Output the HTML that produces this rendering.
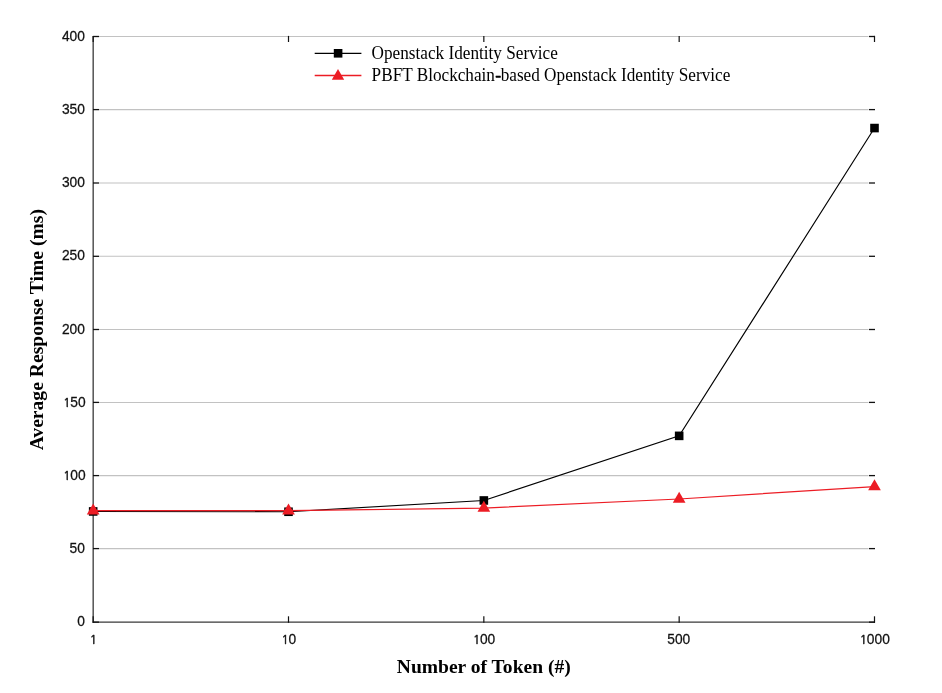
<!DOCTYPE html><html><head><meta charset="utf-8"><style>html,body{margin:0;padding:0;background:#fff;width:942px;height:693px;overflow:hidden}svg{display:block}.t{font-family:"Liberation Sans",Arial,sans-serif;font-size:13.8px;fill:#111;stroke:#111;stroke-width:0.25px}.o{font-family:NanumGothic,"Liberation Sans",sans-serif;font-size:12px;stroke-width:0.5px}.ti{font-family:"Liberation Serif","Times New Roman",serif;font-weight:bold;font-size:19.4px;fill:#000}.lg{font-family:"Liberation Serif","Times New Roman",serif;font-size:17.2px;fill:#000}</style></head><body>
<svg width="942" height="693" viewBox="0 0 942 693">
<rect width="942" height="693" fill="#fff"/>
<line x1="99" y1="548.60" x2="868.5" y2="548.60" stroke="#c2c2c2" stroke-width="1.05"/>
<line x1="99" y1="475.60" x2="868.5" y2="475.60" stroke="#c2c2c2" stroke-width="1.05"/>
<line x1="99" y1="402.40" x2="868.5" y2="402.40" stroke="#c2c2c2" stroke-width="1.05"/>
<line x1="99" y1="329.50" x2="868.5" y2="329.50" stroke="#c2c2c2" stroke-width="1.05"/>
<line x1="99" y1="256.30" x2="868.5" y2="256.30" stroke="#c2c2c2" stroke-width="1.05"/>
<line x1="99" y1="183.00" x2="868.5" y2="183.00" stroke="#c2c2c2" stroke-width="1.05"/>
<line x1="99" y1="109.60" x2="868.5" y2="109.60" stroke="#c2c2c2" stroke-width="1.05"/>
<line x1="99" y1="36.50" x2="868.5" y2="36.50" stroke="#c2c2c2" stroke-width="1.05"/>
<line x1="93.17" y1="36.0" x2="93.17" y2="622.8" stroke="#383838" stroke-width="1.3"/>
<line x1="92.57000000000001" y1="622.15" x2="875.0" y2="622.15" stroke="#383838" stroke-width="1.3"/>
<line x1="92.97" y1="622.15" x2="99" y2="622.15" stroke="#111" stroke-width="1.3"/>
<line x1="869" y1="622.15" x2="875.0" y2="622.15" stroke="#111" stroke-width="1.3"/>
<text class="t" text-anchor="end" transform="translate(84.9,626.30) scale(1,1.09)">0</text>
<line x1="92.97" y1="548.60" x2="99" y2="548.60" stroke="#111" stroke-width="1.3"/>
<line x1="869" y1="548.60" x2="875.0" y2="548.60" stroke="#111" stroke-width="1.3"/>
<text class="t" text-anchor="end" transform="translate(84.9,552.75) scale(1,1.09)">50</text>
<line x1="92.97" y1="475.60" x2="99" y2="475.60" stroke="#111" stroke-width="1.3"/>
<line x1="869" y1="475.60" x2="875.0" y2="475.60" stroke="#111" stroke-width="1.3"/>
<text class="t" text-anchor="end" transform="translate(84.9,479.75) scale(1,1.09)"><tspan class="o" dx="0.71">1</tspan><tspan dx="-0.31">0</tspan>0</text>
<line x1="92.97" y1="402.40" x2="99" y2="402.40" stroke="#111" stroke-width="1.3"/>
<line x1="869" y1="402.40" x2="875.0" y2="402.40" stroke="#111" stroke-width="1.3"/>
<text class="t" text-anchor="end" transform="translate(84.9,406.55) scale(1,1.09)"><tspan class="o" dx="0.71">1</tspan><tspan dx="-0.31">5</tspan>0</text>
<line x1="92.97" y1="329.50" x2="99" y2="329.50" stroke="#111" stroke-width="1.3"/>
<line x1="869" y1="329.50" x2="875.0" y2="329.50" stroke="#111" stroke-width="1.3"/>
<text class="t" text-anchor="end" transform="translate(84.9,333.65) scale(1,1.09)">200</text>
<line x1="92.97" y1="256.30" x2="99" y2="256.30" stroke="#111" stroke-width="1.3"/>
<line x1="869" y1="256.30" x2="875.0" y2="256.30" stroke="#111" stroke-width="1.3"/>
<text class="t" text-anchor="end" transform="translate(84.9,260.45) scale(1,1.09)">250</text>
<line x1="92.97" y1="183.00" x2="99" y2="183.00" stroke="#111" stroke-width="1.3"/>
<line x1="869" y1="183.00" x2="875.0" y2="183.00" stroke="#111" stroke-width="1.3"/>
<text class="t" text-anchor="end" transform="translate(84.9,187.15) scale(1,1.09)">300</text>
<line x1="92.97" y1="109.60" x2="99" y2="109.60" stroke="#111" stroke-width="1.3"/>
<line x1="869" y1="109.60" x2="875.0" y2="109.60" stroke="#111" stroke-width="1.3"/>
<text class="t" text-anchor="end" transform="translate(84.9,113.75) scale(1,1.09)">350</text>
<line x1="92.97" y1="36.50" x2="99" y2="36.50" stroke="#111" stroke-width="1.3"/>
<line x1="869" y1="36.50" x2="875.0" y2="36.50" stroke="#111" stroke-width="1.3"/>
<text class="t" text-anchor="end" transform="translate(84.9,40.65) scale(1,1.09)">400</text>
<line x1="93.17" y1="622.8" x2="93.17" y2="616.3" stroke="#111" stroke-width="1.2"/>
<line x1="93.17" y1="35.9" x2="93.17" y2="42.0" stroke="#111" stroke-width="1.2"/>
<text class="t" text-anchor="middle" transform="translate(92.77,644.2) scale(1,1.09)"><tspan class="o" dx="0.71">1</tspan></text>
<line x1="288.50" y1="622.8" x2="288.50" y2="616.3" stroke="#111" stroke-width="1.2"/>
<line x1="288.50" y1="35.9" x2="288.50" y2="42.0" stroke="#111" stroke-width="1.2"/>
<text class="t" text-anchor="middle" transform="translate(288.10,644.2) scale(1,1.09)"><tspan class="o" dx="0.71">1</tspan><tspan dx="-0.31">0</tspan></text>
<line x1="483.84" y1="622.8" x2="483.84" y2="616.3" stroke="#111" stroke-width="1.2"/>
<line x1="483.84" y1="35.9" x2="483.84" y2="42.0" stroke="#111" stroke-width="1.2"/>
<text class="t" text-anchor="middle" transform="translate(483.44,644.2) scale(1,1.09)"><tspan class="o" dx="0.71">1</tspan><tspan dx="-0.31">0</tspan>0</text>
<line x1="679.17" y1="622.8" x2="679.17" y2="616.3" stroke="#111" stroke-width="1.2"/>
<line x1="679.17" y1="35.9" x2="679.17" y2="42.0" stroke="#111" stroke-width="1.2"/>
<text class="t" text-anchor="middle" transform="translate(678.77,644.2) scale(1,1.09)">500</text>
<line x1="874.50" y1="622.8" x2="874.50" y2="616.3" stroke="#111" stroke-width="1.2"/>
<line x1="874.50" y1="35.9" x2="874.50" y2="42.0" stroke="#111" stroke-width="1.2"/>
<text class="t" text-anchor="middle" transform="translate(874.10,644.2) scale(1,1.09)"><tspan class="o" dx="0.71">1</tspan><tspan dx="-0.31">0</tspan>00</text>
<polyline points="93.17,511.45 288.50,511.75 483.84,500.47 679.17,435.86 874.50,128.06" fill="none" stroke="#000" stroke-width="1.15"/>
<rect x="88.87" y="507.15" width="8.6" height="8.6" fill="#000"/>
<rect x="284.20" y="507.45" width="8.6" height="8.6" fill="#000"/>
<rect x="479.54" y="496.17" width="8.6" height="8.6" fill="#000"/>
<rect x="674.87" y="431.56" width="8.6" height="8.6" fill="#000"/>
<rect x="870.20" y="123.76" width="8.6" height="8.6" fill="#000"/>
<polyline points="93.17,510.72 288.50,510.72 483.84,508.08 679.17,499.00 874.50,486.55" fill="none" stroke="#ec1c24" stroke-width="1.2"/>
<polygon points="93.17,503.39 86.82,514.39 99.52,514.39" fill="#ec1c24"/>
<polygon points="288.50,503.39 282.15,514.39 294.85,514.39" fill="#ec1c24"/>
<polygon points="483.84,500.75 477.49,511.75 490.19,511.75" fill="#ec1c24"/>
<polygon points="679.17,491.67 672.82,502.67 685.52,502.67" fill="#ec1c24"/>
<polygon points="874.50,479.21 868.15,490.21 880.85,490.21" fill="#ec1c24"/>
<line x1="314.7" y1="53.3" x2="361.4" y2="53.3" stroke="#000" stroke-width="1.3"/>
<rect x="333.8" y="49" width="8.6" height="8.6" fill="#000"/>
<line x1="314.7" y1="75.5" x2="361.4" y2="75.5" stroke="#ec1c24" stroke-width="1.3"/>
<polygon points="338,68.9 331.8,79.8 344.2,79.8" fill="#ec1c24"/>
<text class="lg" transform="translate(371.6,58.6) scale(1,1.05)">Openstack Identity Service</text>
<rect x="495.9" y="75.8" width="4.9" height="1.9" fill="#111"/>
<text class="lg" transform="translate(371.6,80.8) scale(1,1.05)">PBFT Blockchain-based Openstack Identity Service</text>
<text class="ti" transform="translate(483.75,672.8) scale(1.008,1)" text-anchor="middle">Number of Token (#)</text>
<text class="ti" transform="translate(42.6,329.7) rotate(-90) scale(1.012,1)" text-anchor="middle">Average Response Time (ms)</text>
</svg></body></html>
